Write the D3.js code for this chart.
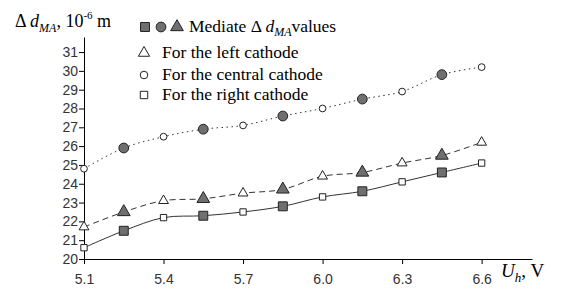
<!DOCTYPE html>
<html>
<head>
<meta charset="utf-8">
<script src="https://cdn.jsdelivr.net/npm/d3@7"></script>
<style>
  body { margin: 0; background: #fff; }
  .serif { font-family: "Liberation Serif", "Times New Roman", serif; fill: #000; }
  .tick text { font-family: "Liberation Sans", Arial, sans-serif; font-size: 14px; fill: #333; }
</style>
</head>
<body>
<div id="chart"></div>
<script>
  // heater voltage, V
  const xOpen = [5.1, 5.4, 5.7, 6.0, 6.3, 6.6];
  const xMed = [5.25, 5.55, 5.85, 6.15, 6.45];
  const xTicks = [5.1, 5.4, 5.7, 6.0, 6.3, 6.6];
  const yTicks = [20, 21, 22, 23, 24, 25, 26, 27, 28, 29, 30, 31];

  // measured values per cathode (open markers)
  const leftVals = [21.7, 23.1, 23.5, 24.4, 25.1, 26.2];
  const centralVals = [24.8, 26.5, 27.1, 28.0, 28.9, 30.2];
  const rightVals = [20.6, 22.2, 22.5, 23.3, 24.1, 25.1];

  // mediate values (filled markers)
  const medLeft = [22.5, 23.2, 23.7, 24.6, 25.5];
  const medCentral = [25.9, 26.9, 27.6, 28.5, 29.8];
  const medRight = [21.5, 22.3, 22.8, 23.6, 24.6];

  const width = 569;
  const height = 291;
  const fillGrey = "#6f6f6f";
  const lineCol = "#333";

  const svg = d3
    .select("#chart")
    .append("svg")
    .attr("width", width)
    .attr("height", height);

  const x = d3.scaleLinear().domain([5.1, 6.79]).range([84, 532]);
  const y = d3.scaleLinear().domain([20, 31.8]).range([259, 37]);

  // axes
  svg
    .append("g")
    .attr("transform", `translate(0, ${y(20)})`)
    .call(
      d3.axisBottom(x).tickValues(xTicks).tickFormat(d3.format(".1f")).tickSize(5).tickSizeOuter(0)
    )
    .call((g) => g.selectAll("text").attr("dy", "1.2em"));

  svg
    .append("g")
    .attr("transform", `translate(${x(5.1)}, 0)`)
    .call(d3.axisLeft(y).tickValues(yTicks).tickSize(5).tickSizeOuter(0).tickPadding(1));

  svg.selectAll(".domain, .tick line").attr("stroke", "#000");

  // curves through both open and mediate points
  const merge = (xa, va, xb, vb) =>
    xa
      .map((d, i) => [d, va[i]])
      .concat(xb.map((d, i) => [d, vb[i]]))
      .sort((a, b) => a[0] - b[0]);

  const line = d3
    .line()
    .x((d) => x(d[0]))
    .y((d) => y(d[1]))
    .curve(d3.curveCatmullRom.alpha(0.5));

  const series = [
    { open: centralVals, med: medCentral, dash: "1.5,3.5", sym: d3.symbolCircle },
    { open: leftVals, med: medLeft, dash: "6,4", sym: d3.symbolTriangle },
    { open: rightVals, med: medRight, dash: null, sym: d3.symbolSquare },
  ];

  series.forEach((s) => {
    svg
      .append("path")
      .datum(merge(xOpen, s.open, xMed, s.med))
      .attr("d", line)
      .attr("fill", "none")
      .attr("stroke", lineCol)
      .attr("stroke-width", 1)
      .attr("stroke-dasharray", s.dash);
  });

  const symSize = (sym, filled) => {
    if (sym === d3.symbolCircle) return filled ? 75 : 36;
    if (sym === d3.symbolTriangle) return filled ? 70 : 42;
    return filled ? 80 : 40;
  };

  series.forEach((s) => {
    svg
      .selectAll(null)
      .data(s.med.map((v, i) => [xMed[i], v]))
      .join("path")
      .attr("transform", (d) => `translate(${x(d[0])}, ${y(d[1])})`)
      .attr("d", d3.symbol(s.sym, symSize(s.sym, true)))
      .attr("fill", fillGrey)
      .attr("stroke", "#222")
      .attr("stroke-width", 1);

    svg
      .selectAll(null)
      .data(s.open.map((v, i) => [xOpen[i], v]))
      .join("path")
      .attr("transform", (d) => `translate(${x(d[0])}, ${y(d[1])})`)
      .attr("d", d3.symbol(s.sym, symSize(s.sym, false)))
      .attr("fill", "#fff")
      .attr("stroke", "#222")
      .attr("stroke-width", 1);
  });

  // legend
  const leg = svg.append("g");
  [
    [d3.symbolSquare, 145],
    [d3.symbolCircle, 161],
    [d3.symbolTriangle, 177],
  ].forEach(([sym, lx]) => {
    leg
      .append("path")
      .attr("transform", `translate(${lx}, 27)`)
      .attr("d", d3.symbol(sym, symSize(sym, true)))
      .attr("fill", fillGrey)
      .attr("stroke", "#222");
  });
  const t1 = leg.append("text").attr("class", "serif").attr("x", 189).attr("y", 32).style("font-size", "17.5px");
  t1.append("tspan").text("Mediate ");
  t1.append("tspan").text("Δ ");
  t1.append("tspan").style("font-style", "italic").text("d");
  t1.append("tspan").attr("dy", 4).style("font-size", "12px").style("font-style", "italic").text("MA");
  t1.append("tspan").attr("dy", -4).text("values");

  [
    [d3.symbolTriangle, 53, "For the left cathode"],
    [d3.symbolCircle, 75, "For the central cathode"],
    [d3.symbolSquare, 95, "For the right cathode"],
  ].forEach(([sym, ly, label]) => {
    leg
      .append("path")
      .attr("transform", `translate(144, ${ly})`)
      .attr("d", d3.symbol(sym, sym === d3.symbolCircle ? 45 : 55))
      .attr("fill", "#fff")
      .attr("stroke", "#222");
    leg
      .append("text")
      .attr("class", "serif")
      .attr("x", 162)
      .attr("y", ly + 5)
      .style("font-size", "17.5px")
      .text(label);
  });

  // y title
  const yt = svg.append("text").attr("class", "serif").attr("x", 15).attr("y", 27).style("font-size", "18px");
  yt.append("tspan").text("Δ ");
  yt.append("tspan").style("font-style", "italic").text("d");
  yt.append("tspan").attr("dy", 5).style("font-size", "12px").style("font-style", "italic").text("MA");
  yt.append("tspan").attr("dy", -5).text(", 10");
  yt.append("tspan").attr("dy", -8).style("font-size", "11px").text("-6");
  yt.append("tspan").attr("dy", 8).text(" m");

  // x title
  const xt = svg.append("text").attr("class", "serif").attr("x", 501).attr("y", 277).style("font-size", "19px");
  xt.append("tspan").style("font-style", "italic").text("U");
  xt.append("tspan").attr("dy", 5).style("font-size", "13px").style("font-style", "italic").text("h");
  xt.append("tspan").attr("dy", -5).text(", V");
</script>
</body>
</html>
